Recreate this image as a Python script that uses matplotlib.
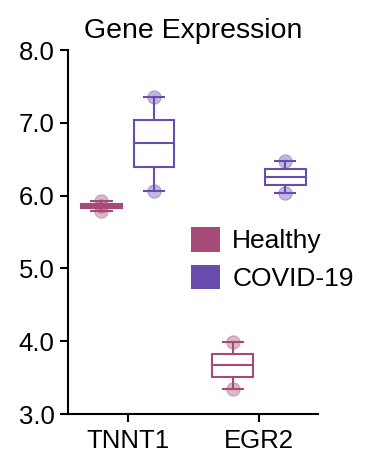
import matplotlib
matplotlib.use("Agg")
import matplotlib.pyplot as plt
from matplotlib.patches import Patch
import numpy as np

plt.rcParams['font.family'] = ['Liberation Sans', 'DejaVu Sans']

genes = ["TNNT1", "EGR2"]
groups = ["Healthy", "COVID-19"]
healthy_vals = [[5.79, 5.86, 5.92], [3.34, 3.67, 3.99]]
covid_vals = [[6.07, 6.72, 7.36], [6.04, 6.25, 6.47]]
colors = {"Healthy": "#A64B78", "COVID-19": "#6A4CAF"}
yticks = [3.0, 4.0, 5.0, 6.0, 7.0, 8.0]

fig = plt.figure(figsize=(3.70, 4.71), dpi=100)
ax = fig.add_axes([68.3/370, 57/471, (318-68.3)/370, 364/471])

offsets = {"Healthy": -0.2, "COVID-19": 0.2}
data = {"Healthy": healthy_vals, "COVID-19": covid_vals}
width = 0.31
for g in groups:
    c = colors[g]
    for i, vals in enumerate(data[g]):
        pos = i + offsets[g]
        ax.scatter([pos]*len(vals), vals, s=92, color=c, alpha=0.4,
                   edgecolors=c, linewidths=0.8, zorder=1)
        ax.boxplot([vals], positions=[pos], widths=width, patch_artist=True,
                   whis=(0, 100), showfliers=False, manage_ticks=False,
                   boxprops=dict(facecolor="white", edgecolor=c, linewidth=1.5),
                   medianprops=dict(color=c, linewidth=1.5),
                   whiskerprops=dict(color=c, linewidth=1.5),
                   capprops=dict(color=c, linewidth=1.5), zorder=2)

ax.set_xlim(-0.452, 1.449)
ax.set_ylim(3.0, 8.0)
ax.set_xticks(range(len(genes)))
ax.set_xticklabels(genes)
ax.set_yticks(yticks)
ax.set_yticklabels([f"{v:.1f}" for v in yticks])
for s in ["top", "right"]:
    ax.spines[s].set_visible(False)
for s in ["left", "bottom"]:
    ax.spines[s].set_linewidth(1.5)
ax.tick_params(axis='both', labelsize=18.5, length=6, width=1.5, pad=4)
ax.tick_params(axis='x', pad=5)
ax.set_title("Gene Expression", fontsize=20.5, pad=9)

handles = [Patch(facecolor=colors[g], edgecolor='none', label=g) for g in groups]
ax.legend(handles=handles, loc='upper left', bbox_to_anchor=(0.491, 0.514),
          frameon=False, fontsize=19, handlelength=1.12, handleheight=1.07,
          handletextpad=0.45, labelspacing=0.43, borderpad=0, borderaxespad=0)

fig.savefig("out.png", dpi=100)
